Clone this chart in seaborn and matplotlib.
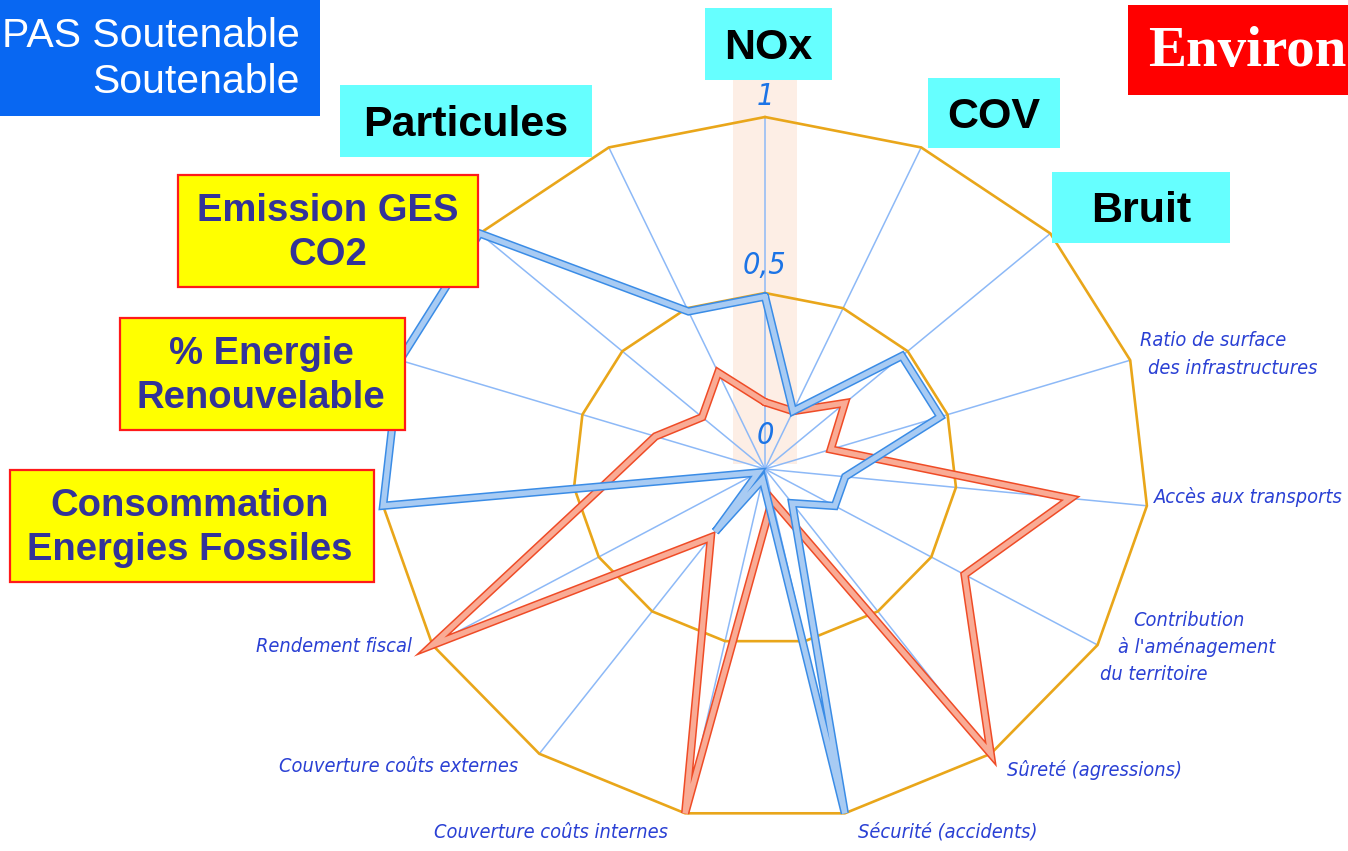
import numpy as np
import matplotlib
matplotlib.use('Agg')
import matplotlib.pyplot as plt
from matplotlib import font_manager
from matplotlib.patches import Rectangle
import seaborn as sns

# radar axes, clockwise from the top
axis_names = ['NOx', 'COV', 'Bruit', 'Ratio de surface des infrastructures',
              'Accès aux transports', "Contribution à l'aménagement du territoire",
              'Sûreté (agressions)', 'Sécurité (accidents)', 'Couverture coûts internes',
              'Couverture coûts externes', 'Rendement fiscal',
              'Consommation Energies Fossiles', '% Energie Renouvelable',
              'Emission GES CO2', 'Particules']
blue_vals = [0.49, 0.18, 0.48, 0.48, 0.21, 0.21, 0.12, 1.00, 0.03, 0.22,
             0.02, 1.00, 1.00, 1.00, 0.49]
red_vals = [0.19, 0.18, 0.28, 0.18, 0.80, 0.60, 1.00, 0.09, 1.00, 0.24,
            1.00, 0.42, 0.30, 0.22, 0.30]
ring_levels = [0.5, 1.0]
tick_values = [0, 0.5, 1]
tick_text = ['0', '0,5', '1']

sns.set_style('white')
plt.rcParams['font.family'] = ['DejaVu Sans']

names = {f.name for f in font_manager.fontManager.ttflist}
if 'Liberation Sans Narrow' in names:
    lab_font = dict(family='Liberation Sans Narrow', style='italic', size=17)
    tick_font = dict(family='Liberation Sans Narrow', style='italic', size=26)
else:
    lab_font = dict(family='DejaVu Sans', style='italic', stretch='condensed', size=14.3)
    tick_font = dict(family='DejaVu Sans', style='italic', stretch='condensed', size=22)

W, H = 1348, 851
fig = plt.figure(figsize=(W / 100, H / 100), dpi=100)
fig.patch.set_facecolor('white')

# radar centre / radii in pixels (the original is stretched sideways)
cx, cy, rx, ry = 765, 469, 384, 352
ax = fig.add_axes([(cx - rx) / W, (H - cy - ry) / H, 2 * rx / W, 2 * ry / H],
                  projection='polar')
ax.set_aspect('auto')
ax.set_theta_zero_location('N')
ax.set_theta_direction(-1)
ax.set_ylim(0, 1)
ax.axis('off')

n = len(axis_names)
theta = np.linspace(0, 2 * np.pi, n, endpoint=False)
theta_c = np.append(theta, theta[0])


def px_rect(x0, y0, x1, y1, **kw):
    r = Rectangle((x0 / W, 1 - y1 / H), (x1 - x0) / W, (y1 - y0) / H,
                  transform=fig.transFigure, **kw)
    fig.patches.append(r)


# peach band behind the scale
px_rect(733, 80, 797, 464, facecolor='#fdeee5', edgecolor='none', zorder=-1)

# spokes and rings
for t in theta:
    ax.plot([t, t], [0, 1], color='#8db9f7', lw=1.1, clip_on=False, zorder=1)
for lev in ring_levels:
    ax.plot(theta_c, [lev] * (n + 1), color='#e9a61a', lw=1.9, clip_on=False, zorder=2)

# series: dark edge + light core
for vals, edge, core in [(red_vals, '#ef4b26', '#f9ab95'),
                         (blue_vals, '#3a8ce6', '#a8cbf3')]:
    v = vals + [vals[0]]
    sns.lineplot(x=theta_c, y=v, sort=False, estimator=None, ax=ax, color=edge,
                 lw=6.0, clip_on=False, zorder=3, solid_joinstyle='miter')
    sns.lineplot(x=theta_c, y=v, sort=False, estimator=None, ax=ax, color=core,
                 lw=3.8, clip_on=False, zorder=3, solid_joinstyle='miter')

for tv, tt, off in zip(tick_values, tick_text, [24, 20, 15]):
    ax.annotate(tt, xy=(0, tv), xytext=(0, off), textcoords='offset points',
                ha='center', va='center', color='#1c74e6', zorder=4,
                annotation_clip=False, **tick_font)

# italic axis labels
lab_col = '#2a40d4'
lab_pos = [
    (1140, 340, 'left', 'Ratio de surface'),
    (1148, 368, 'left', 'des infrastructures'),
    (1343, 497, 'right', 'Accès aux transports'),
    (1133, 620, 'left', 'Contribution'),
    (1118, 647, 'left', "à l'aménagement"),
    (1100, 675, 'left', 'du territoire'),
    (1007, 770, 'left', 'Sûreté (agressions)'),
    (858, 832, 'left', 'Sécurité (accidents)'),
    (668, 833, 'right', 'Couverture coûts internes'),
    (518, 766, 'right', 'Couverture coûts externes'),
    (412, 647, 'right', 'Rendement fiscal'),
]
for x, y, ha, s in lab_pos:
    fig.text(x / W, 1 - y / H, s, ha=ha, va='center', color=lab_col, **lab_font)

# label boxes
bold = dict(family='Liberation Sans', weight='bold', size=31)
cyan_boxes = [((340, 85, 592, 157), 'Particules'),
              ((705, 8, 832, 80), 'NOx'),
              ((928, 78, 1060, 148), 'COV'),
              ((1052, 172, 1230, 243), 'Bruit')]
for (x0, y0, x1, y1), s in cyan_boxes:
    px_rect(x0, y0, x1, y1, facecolor='#66ffff', edgecolor='none', zorder=5)
    fig.text((x0 + x1) / 2 / W, 1 - ((y0 + y1) / 2 + 4) / H, s, ha='center',
             va='center', color='black', zorder=6, **bold)

yel = dict(family='Liberation Sans', weight='bold', size=27.5)
yellow_boxes = [((178, 175, 478, 287), 328, 'Emission GES\nCO2'),
                ((120, 318, 405, 430), 261, '% Energie\nRenouvelable'),
                ((10, 470, 374, 582), 190, 'Consommation\nEnergies Fossiles')]
for (x0, y0, x1, y1), xc, s in yellow_boxes:
    px_rect(x0, y0, x1, y1, facecolor='#ffff00', edgecolor='#ff1a1a', lw=1.6, zorder=5)
    fig.text(xc / W, 1 - ((y0 + y1) / 2 + 2) / H, s, ha='center', va='center',
             ma='center', color='#333399', linespacing=1.32, zorder=6, **yel)

px_rect(0, 0, 320, 116, facecolor='#0867f2', edgecolor='none', zorder=5)
fig.text(300 / W, 1 - 59 / H, 'PAS Soutenable\nSoutenable', ha='right', va='center',
         ma='right', color='white', linespacing=1.27, zorder=6,
         family='Liberation Sans', size=29.5)

px_rect(1128, 5, 1348, 95, facecolor='#ff0000', edgecolor='none', zorder=5)
fig.text(1148 / W, 1 - 52 / H, 'Environ', ha='left', va='center', color='white',
         zorder=6, family='Liberation Serif', weight='bold', size=41)

fig.savefig('out.png', dpi=100, facecolor='white')
